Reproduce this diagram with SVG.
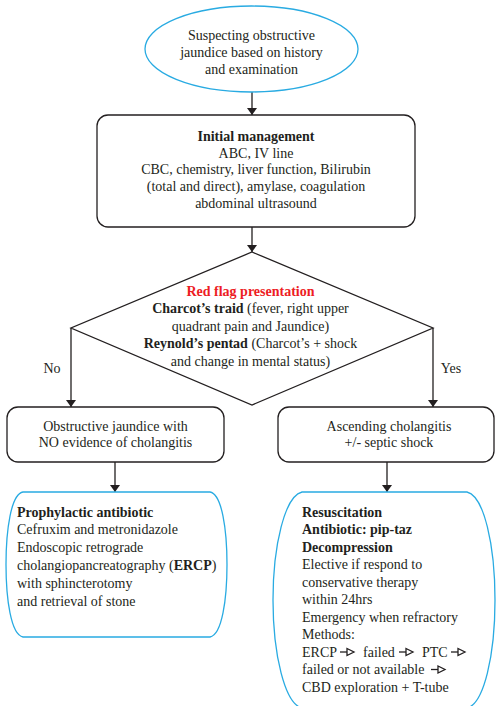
<svg xmlns="http://www.w3.org/2000/svg" width="496" height="706" viewBox="0 0 496 706">
<defs>
<style>
text{font-family:"Liberation Serif","Times New Roman",serif;font-size:14px;fill:#231f20}
.c{text-anchor:middle}
.b{font-weight:bold}
.red{fill:#ed1c24;font-weight:bold}
.ln{fill:none;stroke:#231f20;stroke-width:1.3}
.blue{fill:none;stroke:#29abe2;stroke-width:1.3}
.box{fill:#fff;stroke:#231f20;stroke-width:1.3}
.ha line,.ha polygon{fill:none;stroke:#231f20;stroke-width:1.3}
</style>
<marker id="ah" viewBox="0 0 10 10" refX="10" refY="5" markerWidth="7" markerHeight="10" markerUnits="userSpaceOnUse" orient="auto" preserveAspectRatio="none">
<path d="M0,0 L10,5 L0,10 Z" fill="#231f20"/>
</marker>
<g id="harrow" class="ha"><line x1="0" y1="0" x2="7" y2="0"/><polygon points="7,-3.5 14,0 7,3.5"/></g>
</defs>

<g id="connectors">
<line class="ln" x1="252" y1="92" x2="252" y2="115" marker-end="url(#ah)"/>
<line class="ln" x1="252" y1="227" x2="252" y2="252" marker-end="url(#ah)"/>
<line class="ln" x1="71" y1="328" x2="71" y2="407" marker-end="url(#ah)"/>
<line class="ln" x1="433" y1="328" x2="433" y2="407" marker-end="url(#ah)"/>
<line class="ln" x1="115" y1="462" x2="115" y2="492" marker-end="url(#ah)"/>
<line class="ln" x1="387" y1="462" x2="387" y2="492" marker-end="url(#ah)"/>
<text x="52" y="372.5" class="c">No</text>
<text x="451" y="372.5" class="c">Yes</text>
</g>

<g id="start">
<ellipse class="blue" cx="251.5" cy="49" rx="106.5" ry="43"/>
<text class="c" x="251.5" y="39.5">Suspecting obstructive</text>
<text class="c" x="251.5" y="56.5">jaundice based on history</text>
<text class="c" x="251.5" y="73.5">and examination</text>
</g>

<g id="initial">
<rect class="box" x="97" y="115" width="318" height="112" rx="11"/>
<text class="c b" x="256" y="141">Initial management</text>
<text class="c" x="256" y="157.7">ABC, IV line</text>
<text class="c" x="256" y="174.4">CBC, chemistry, liver function, Bilirubin</text>
<text class="c" x="256" y="191.1">(total and direct), amylase, coagulation</text>
<text class="c" x="256" y="207.8">abdominal ultrasound</text>
</g>

<g id="redflag">
<polygon class="box" points="252,252 433,328 252,405 71,328"/>
<text class="c red" x="250.5" y="295.5">Red flag presentation</text>
<text class="c" x="250.5" y="313.1"><tspan class="b">Charcot’s traid</tspan> (fever, right upper</text>
<text class="c" x="250.5" y="330.7">quadrant pain and Jaundice)</text>
<text class="c" x="250.5" y="348.3"><tspan class="b">Reynold’s pentad</tspan> (Charcot’s + shock</text>
<text class="c" x="250.5" y="365.9">and change in mental status)</text>
</g>

<g id="no-cholangitis">
<rect class="box" x="7" y="407" width="217" height="55" rx="11"/>
<text class="c" x="115.5" y="430.5">Obstructive jaundice with</text>
<text class="c" x="115.5" y="446.5">NO evidence of cholangitis</text>
</g>

<g id="cholangitis">
<rect class="box" x="278" y="407" width="216" height="55" rx="11"/>
<text class="c" x="389" y="430.5">Ascending cholangitis</text>
<text class="c" x="389" y="446.5">+/- septic shock</text>
</g>

<g id="prophylactic">
<path class="blue" d="M23,492 H210 C222,494 227,530 227,564.5 C227,599 222,635 210,637 H23 C11,635 6,599 6,564.5 C6,530 11,494 23,492 Z"/>
<text class="b" x="17" y="516.5">Prophylactic antibiotic</text>
<text x="17" y="534.3">Cefruxim and metronidazole</text>
<text x="17" y="552.1">Endoscopic retrograde</text>
<text x="17" y="569.9">cholangiopancreatography (<tspan class="b">ERCP</tspan>)</text>
<text x="17" y="587.7">with sphincterotomy</text>
<text x="17" y="605.5">and retrieval of stone</text>
</g>

<g id="resuscitation">
<path class="blue" d="M302,492 H467 C484,496 495,545 495,600 C495,655 484,704 467,708 H302 C285,704 273,655 273,600 C273,545 285,496 302,492 Z"/>
<text class="b" x="302" y="516.5">Resuscitation</text>
<text class="b" x="302" y="534">Antibiotic: pip-taz</text>
<text class="b" x="302" y="551.5">Decompression</text>
<text x="302" y="569">Elective if respond to</text>
<text x="302" y="586.5">conservative therapy</text>
<text x="302" y="604">within 24hrs</text>
<text x="302" y="621.5">Emergency when refractory</text>
<text x="302" y="639">Methods:</text>
<text x="302" y="656.5">ERCP</text>
<use href="#harrow" x="340" y="652"/>
<text x="363" y="656.5">failed</text>
<use href="#harrow" x="399" y="652"/>
<text x="422" y="656.5">PTC</text>
<use href="#harrow" x="451" y="652"/>
<text x="302" y="674">failed or not available</text>
<use href="#harrow" x="431" y="669.5"/>
<text x="302" y="691.5">CBD exploration + T-tube</text>
</g>
</svg>
